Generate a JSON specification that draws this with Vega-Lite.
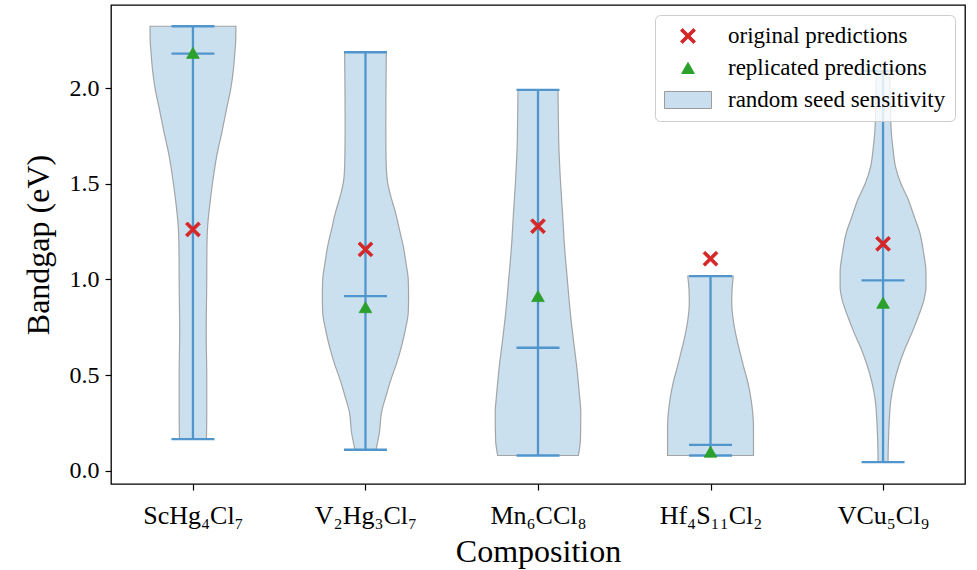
{
  "$schema": "https://vega.github.io/schema/vega-lite/v6.json",
  "width": 854,
  "height": 479,
  "autosize": {"type": "none"},
  "padding": {"left": 111, "top": 5, "right": 12, "bottom": 86},
  "background": "white",
  "config": {
    "font": "Liberation Serif",
    "view": {"stroke": "#000000", "strokeWidth": 1.3},
    "axis": {
      "grid": false,
      "domain": false,
      "tickColor": "#000000",
      "tickSize": 6,
      "tickWidth": 1.2,
      "labelColor": "#000000",
      "labelFont": "Liberation Serif",
      "labelFontSize": 24,
      "titleFont": "Liberation Serif",
      "titleFontSize": 32,
      "titleFontWeight": "normal",
      "titleColor": "#000000"
    },
    "legend": {
      "orient": "top-right",
      "offset": 10,
      "labelFont": "Liberation Serif",
      "labelFontSize": 23,
      "labelColor": "#000000",
      "labelLimit": 500,
      "symbolSize": 529,
      "symbolStrokeWidth": 1,
      "symbolOpacity": 1,
      "symbolOffset": 12,
      "padding": 9,
      "fillColor": "rgba(255,255,255,0.8)",
      "strokeColor": "#cccccc",
      "cornerRadius": 5,
      "labelOffset": 28,
      "rowPadding": 8
    }
  },
  "datasets": {
    "violin": [
      {"comp": "ScHg4Cl7", "v": 0.165, "lo": 0.922, "hi": 1.078},
      {"comp": "ScHg4Cl7", "v": 0.3, "lo": 0.920, "hi": 1.080},
      {"comp": "ScHg4Cl7", "v": 0.49, "lo": 0.920, "hi": 1.080},
      {"comp": "ScHg4Cl7", "v": 0.72, "lo": 0.923, "hi": 1.077},
      {"comp": "ScHg4Cl7", "v": 1.0, "lo": 0.920, "hi": 1.080},
      {"comp": "ScHg4Cl7", "v": 1.15, "lo": 0.919, "hi": 1.081},
      {"comp": "ScHg4Cl7", "v": 1.26, "lo": 0.916, "hi": 1.084},
      {"comp": "ScHg4Cl7", "v": 1.4, "lo": 0.901, "hi": 1.099},
      {"comp": "ScHg4Cl7", "v": 1.5, "lo": 0.887, "hi": 1.113},
      {"comp": "ScHg4Cl7", "v": 1.65, "lo": 0.861, "hi": 1.139},
      {"comp": "ScHg4Cl7", "v": 1.77, "lo": 0.832, "hi": 1.168},
      {"comp": "ScHg4Cl7", "v": 1.9, "lo": 0.803, "hi": 1.197},
      {"comp": "ScHg4Cl7", "v": 2.0, "lo": 0.780, "hi": 1.220},
      {"comp": "ScHg4Cl7", "v": 2.1, "lo": 0.765, "hi": 1.235},
      {"comp": "ScHg4Cl7", "v": 2.185, "lo": 0.757, "hi": 1.243},
      {"comp": "ScHg4Cl7", "v": 2.25, "lo": 0.752, "hi": 1.248},
      {"comp": "ScHg4Cl7", "v": 2.323, "lo": 0.751, "hi": 1.249},

      {"comp": "V2Hg3Cl7", "v": 0.11, "lo": 1.939, "hi": 2.061},
      {"comp": "V2Hg3Cl7", "v": 0.2, "lo": 1.919, "hi": 2.081},
      {"comp": "V2Hg3Cl7", "v": 0.305, "lo": 1.907, "hi": 2.093},
      {"comp": "V2Hg3Cl7", "v": 0.4, "lo": 1.878, "hi": 2.122},
      {"comp": "V2Hg3Cl7", "v": 0.478, "lo": 1.852, "hi": 2.148},
      {"comp": "V2Hg3Cl7", "v": 0.56, "lo": 1.820, "hi": 2.180},
      {"comp": "V2Hg3Cl7", "v": 0.65, "lo": 1.791, "hi": 2.209},
      {"comp": "V2Hg3Cl7", "v": 0.74, "lo": 1.768, "hi": 2.232},
      {"comp": "V2Hg3Cl7", "v": 0.826, "lo": 1.752, "hi": 2.248},
      {"comp": "V2Hg3Cl7", "v": 0.91, "lo": 1.750, "hi": 2.250},
      {"comp": "V2Hg3Cl7", "v": 1.0, "lo": 1.752, "hi": 2.248},
      {"comp": "V2Hg3Cl7", "v": 1.085, "lo": 1.765, "hi": 2.235},
      {"comp": "V2Hg3Cl7", "v": 1.17, "lo": 1.780, "hi": 2.220},
      {"comp": "V2Hg3Cl7", "v": 1.26, "lo": 1.803, "hi": 2.197},
      {"comp": "V2Hg3Cl7", "v": 1.35, "lo": 1.826, "hi": 2.174},
      {"comp": "V2Hg3Cl7", "v": 1.44, "lo": 1.855, "hi": 2.145},
      {"comp": "V2Hg3Cl7", "v": 1.52, "lo": 1.874, "hi": 2.126},
      {"comp": "V2Hg3Cl7", "v": 1.61, "lo": 1.880, "hi": 2.120},
      {"comp": "V2Hg3Cl7", "v": 1.8, "lo": 1.882, "hi": 2.118},
      {"comp": "V2Hg3Cl7", "v": 2.0, "lo": 1.881, "hi": 2.119},
      {"comp": "V2Hg3Cl7", "v": 2.187, "lo": 1.879, "hi": 2.121},

      {"comp": "Mn6CCl8", "v": 0.08, "lo": 2.766, "hi": 3.234},
      {"comp": "Mn6CCl8", "v": 0.164, "lo": 2.754, "hi": 3.246},
      {"comp": "Mn6CCl8", "v": 0.305, "lo": 2.752, "hi": 3.248},
      {"comp": "Mn6CCl8", "v": 0.39, "lo": 2.759, "hi": 3.241},
      {"comp": "Mn6CCl8", "v": 0.478, "lo": 2.768, "hi": 3.232},
      {"comp": "Mn6CCl8", "v": 0.565, "lo": 2.778, "hi": 3.222},
      {"comp": "Mn6CCl8", "v": 0.65, "lo": 2.790, "hi": 3.210},
      {"comp": "Mn6CCl8", "v": 0.82, "lo": 2.812, "hi": 3.188},
      {"comp": "Mn6CCl8", "v": 1.0, "lo": 2.830, "hi": 3.170},
      {"comp": "Mn6CCl8", "v": 1.17, "lo": 2.846, "hi": 3.154},
      {"comp": "Mn6CCl8", "v": 1.35, "lo": 2.858, "hi": 3.142},
      {"comp": "Mn6CCl8", "v": 1.52, "lo": 2.870, "hi": 3.130},
      {"comp": "Mn6CCl8", "v": 1.696, "lo": 2.879, "hi": 3.121},
      {"comp": "Mn6CCl8", "v": 1.85, "lo": 2.882, "hi": 3.118},
      {"comp": "Mn6CCl8", "v": 1.99, "lo": 2.884, "hi": 3.116},

      {"comp": "Hf4S11Cl2", "v": 0.08, "lo": 3.751, "hi": 4.249},
      {"comp": "Hf4S11Cl2", "v": 0.128, "lo": 3.751, "hi": 4.249},
      {"comp": "Hf4S11Cl2", "v": 0.233, "lo": 3.751, "hi": 4.249},
      {"comp": "Hf4S11Cl2", "v": 0.3, "lo": 3.755, "hi": 4.245},
      {"comp": "Hf4S11Cl2", "v": 0.373, "lo": 3.765, "hi": 4.235},
      {"comp": "Hf4S11Cl2", "v": 0.46, "lo": 3.783, "hi": 4.217},
      {"comp": "Hf4S11Cl2", "v": 0.547, "lo": 3.809, "hi": 4.191},
      {"comp": "Hf4S11Cl2", "v": 0.63, "lo": 3.832, "hi": 4.168},
      {"comp": "Hf4S11Cl2", "v": 0.72, "lo": 3.855, "hi": 4.145},
      {"comp": "Hf4S11Cl2", "v": 0.8, "lo": 3.870, "hi": 4.130},
      {"comp": "Hf4S11Cl2", "v": 0.88, "lo": 3.877, "hi": 4.123},
      {"comp": "Hf4S11Cl2", "v": 0.95, "lo": 3.875, "hi": 4.125},
      {"comp": "Hf4S11Cl2", "v": 1.017, "lo": 3.868, "hi": 4.132},

      {"comp": "VCu5Cl9", "v": 0.045, "lo": 4.971, "hi": 5.029},
      {"comp": "VCu5Cl9", "v": 0.2, "lo": 4.967, "hi": 5.033},
      {"comp": "VCu5Cl9", "v": 0.373, "lo": 4.954, "hi": 5.046},
      {"comp": "VCu5Cl9", "v": 0.46, "lo": 4.936, "hi": 5.064},
      {"comp": "VCu5Cl9", "v": 0.55, "lo": 4.908, "hi": 5.092},
      {"comp": "VCu5Cl9", "v": 0.64, "lo": 4.872, "hi": 5.128},
      {"comp": "VCu5Cl9", "v": 0.722, "lo": 4.832, "hi": 5.168},
      {"comp": "VCu5Cl9", "v": 0.81, "lo": 4.794, "hi": 5.206},
      {"comp": "VCu5Cl9", "v": 0.896, "lo": 4.762, "hi": 5.238},
      {"comp": "VCu5Cl9", "v": 0.96, "lo": 4.751, "hi": 5.249},
      {"comp": "VCu5Cl9", "v": 1.035, "lo": 4.751, "hi": 5.249},
      {"comp": "VCu5Cl9", "v": 1.14, "lo": 4.765, "hi": 5.235},
      {"comp": "VCu5Cl9", "v": 1.245, "lo": 4.787, "hi": 5.213},
      {"comp": "VCu5Cl9", "v": 1.33, "lo": 4.820, "hi": 5.180},
      {"comp": "VCu5Cl9", "v": 1.42, "lo": 4.855, "hi": 5.145},
      {"comp": "VCu5Cl9", "v": 1.5, "lo": 4.896, "hi": 5.104},
      {"comp": "VCu5Cl9", "v": 1.59, "lo": 4.928, "hi": 5.072},
      {"comp": "VCu5Cl9", "v": 1.68, "lo": 4.942, "hi": 5.058},
      {"comp": "VCu5Cl9", "v": 1.77, "lo": 4.952, "hi": 5.048},
      {"comp": "VCu5Cl9", "v": 1.9, "lo": 4.957, "hi": 5.043},
      {"comp": "VCu5Cl9", "v": 2.0, "lo": 4.959, "hi": 5.041},
      {"comp": "VCu5Cl9", "v": 2.09, "lo": 4.962, "hi": 5.038}
    ],
    "stats": [
      {"comp": "ScHg4Cl7", "pos": 1, "vmin": 0.165, "vmax": 2.323, "vmed": 2.18},
      {"comp": "V2Hg3Cl7", "pos": 2, "vmin": 0.11, "vmax": 2.187, "vmed": 0.913},
      {"comp": "Mn6CCl8", "pos": 3, "vmin": 0.08, "vmax": 1.99, "vmed": 0.643},
      {"comp": "Hf4S11Cl2", "pos": 4, "vmin": 0.08, "vmax": 1.017, "vmed": 0.135},
      {"comp": "VCu5Cl9", "pos": 5, "vmin": 0.045, "vmax": 2.09, "vmed": 0.995}
    ],
    "points": [
      {"comp": "ScHg4Cl7", "pos": 1, "series": "original predictions", "value": 1.261},
      {"comp": "V2Hg3Cl7", "pos": 2, "series": "original predictions", "value": 1.157},
      {"comp": "Mn6CCl8", "pos": 3, "series": "original predictions", "value": 1.278},
      {"comp": "Hf4S11Cl2", "pos": 4, "series": "original predictions", "value": 1.108},
      {"comp": "VCu5Cl9", "pos": 5, "series": "original predictions", "value": 1.186},
      {"comp": "ScHg4Cl7", "pos": 1, "series": "replicated predictions", "value": 2.184},
      {"comp": "V2Hg3Cl7", "pos": 2, "series": "replicated predictions", "value": 0.855},
      {"comp": "Mn6CCl8", "pos": 3, "series": "replicated predictions", "value": 0.913},
      {"comp": "Hf4S11Cl2", "pos": 4, "series": "replicated predictions", "value": 0.10},
      {"comp": "VCu5Cl9", "pos": 5, "series": "replicated predictions", "value": 0.878}
    ]
  },
  "layer": [
    {
      "data": {"name": "violin"},
      "mark": {"type": "area", "orient": "horizontal", "interpolate": "monotone", "fill": "#1f77b4", "fillOpacity": 0.23, "stroke": "#8c8c8c", "strokeOpacity": 0.75, "strokeWidth": 1.2},
      "encoding": {
        "y": {"field": "v", "type": "quantitative", "scale": {"domain": [-0.069, 2.434], "nice": false, "zero": false}, "title": "Bandgap (eV)",
              "axis": {"values": [0, 0.5, 1, 1.5, 2], "format": ".1f", "labelPadding": 6, "titlePadding": 14}},
        "x": {"field": "lo", "type": "quantitative", "stack": null, "scale": {"domain": [0.525, 5.475], "nice": false, "zero": false}, "title": "Composition",
              "axis": {"values": [1, 2, 3, 4, 5], "labelExpr": "['', 'ScHg₄Cl₇', 'V₂Hg₃Cl₇', 'Mn₆CCl₈', 'Hf₄S₁₁Cl₂', 'VCu₅Cl₉'][datum.value]", "labelFontSize": 26, "labelPadding": 12, "titlePadding": 8}},
        "x2": {"field": "hi"},
        "detail": {"field": "comp"}
      }
    },
    {
      "data": {"name": "stats"},
      "mark": {"type": "rule", "color": "#5096cc", "strokeWidth": 2.3},
      "encoding": {
        "x": {"field": "pos", "type": "quantitative", "title": "Composition"},
        "y": {"field": "vmin", "type": "quantitative", "title": "Bandgap (eV)"},
        "y2": {"field": "vmax"}
      }
    },
    {
      "data": {"name": "stats"},
      "transform": [{"fold": ["vmin", "vmax", "vmed"], "as": ["stat", "val"]}],
      "mark": {"type": "tick", "orient": "horizontal", "color": "#5096cc", "size": 43, "thickness": 2.3, "opacity": 1},
      "encoding": {
        "x": {"field": "pos", "type": "quantitative", "title": "Composition"},
        "y": {"field": "val", "type": "quantitative", "title": "Bandgap (eV)"}
      }
    },
    {
      "data": {"name": "points"},
      "mark": {"type": "point", "filled": true, "size": 529, "opacity": 1, "strokeWidth": 0.8},
      "encoding": {
        "x": {"field": "pos", "type": "quantitative", "title": "Composition"},
        "y": {"field": "value", "type": "quantitative", "title": "Bandgap (eV)"},
        "color": {"field": "series", "type": "nominal", "title": null,
                  "scale": {"domain": ["original predictions", "replicated predictions", "random seed sensitivity"], "range": ["#d62728", "#2ca02c", "#c9deee"]}},
        "stroke": {"field": "series", "type": "nominal", "title": null,
                   "scale": {"domain": ["original predictions", "replicated predictions", "random seed sensitivity"], "range": ["#d62728", "#2ca02c", "#9a9a9a"]}},
        "shape": {"field": "series", "type": "nominal", "title": null,
                  "scale": {"domain": ["original predictions", "replicated predictions", "random seed sensitivity"],
                            "range": ["M-0.65,-0.466L-0.466,-0.65L0,-0.184L0.466,-0.65L0.65,-0.466L0.184,0L0.65,0.466L0.466,0.65L0,0.184L-0.466,0.65L-0.65,0.466L-0.184,0Z",
                                      "M0,-0.48L0.55,0.48L-0.55,0.48Z",
                                      "M-2.04,-0.74L2.04,-0.74L2.04,0.74L-2.04,0.74Z"]}}
      }
    }
  ]
}
